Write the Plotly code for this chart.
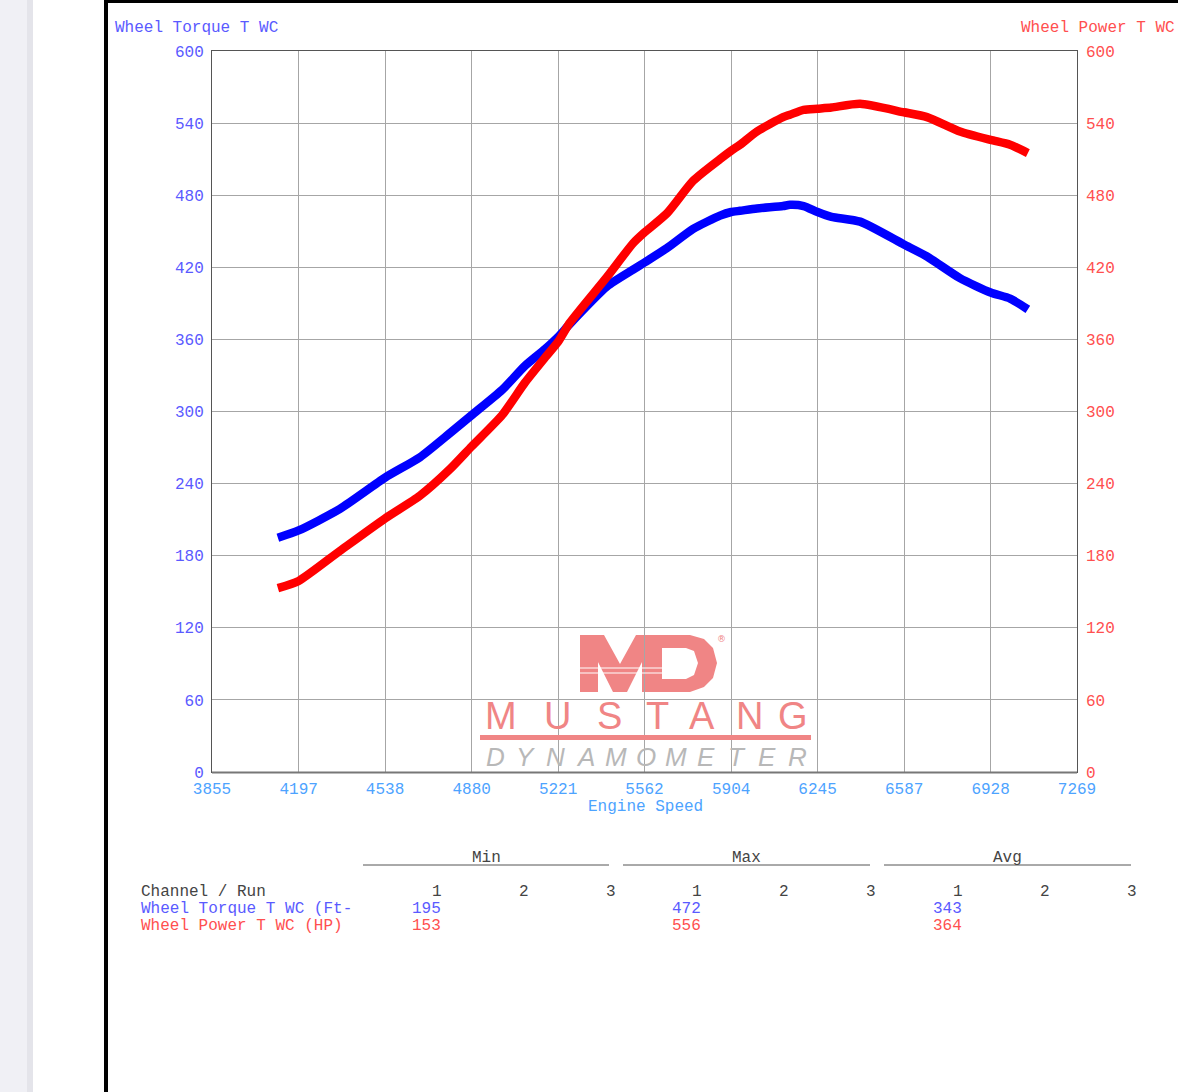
import plotly.graph_objects as go

# ---------------- data ----------------
rpm = [4115, 4197, 4360, 4538, 4676, 4794, 4880, 5000, 5090, 5170, 5221, 5268,
       5414, 5517, 5562, 5651, 5754, 5860, 5904, 5939, 6006, 6109, 6136, 6190,
       6245, 6300, 6413, 6586, 6677, 6807, 6928, 7005, 7075]
torque = [195, 201, 219, 245, 262, 282, 297, 318, 338, 352, 362, 373,
          404, 418, 424, 436, 452, 463, 466, 467, 469, 471, 472, 471,
          466, 462, 458, 439, 429, 411, 399, 394, 385]
power = [153, 159, 184, 211, 230, 252, 271, 297, 324, 345, 358, 374,
         412, 440, 449, 465, 492, 510, 517, 522, 533, 545, 547, 551,
         552, 553, 556, 549, 545, 533, 526, 522, 515]

x_ticks = [3855, 4197, 4538, 4880, 5221, 5562, 5904, 6245, 6587, 6928, 7269]
y_ticks = [0, 60, 120, 180, 240, 300, 360, 420, 480, 540, 600]

left_title = "Wheel Torque T WC"
right_title = "Wheel Power T WC"
x_title = "Engine Speed"

table_groups = ["Min", "Max", "Avg"]
runs = ["1", "2", "3"]
channels = ["Wheel Torque T WC (Ft-", "Wheel Power T WC (HP)"]
ch_min = ["195", "153"]
ch_max = ["472", "556"]
ch_avg = ["343", "364"]

# ---------------- layout helpers ----------------
W, H = 1178, 1092
L, R, T, B = 212, 1077, 51, 772

def px(x):
    return (x - L) / (R - L)

def py(y):
    return (B - y) / (B - T)

def path_from(polys):
    parts = []
    for poly in polys:
        seg = "M " + " L ".join(f"{px(a):.5f},{py(b):.5f}" for a, b in poly) + " Z"
        parts.append(seg)
    return " ".join(parts)

FONT = "Liberation Mono"
BLUE_T = "#5a5aff"
XBLUE = "#4da3ff"
RED_T = "#ff4f4f"
GREY_T = "#444444"
SALMON = "#f08585"

fig = go.Figure()
fig.add_trace(go.Scatter(x=rpm, y=torque, mode="lines", name=left_title,
                         line=dict(color="#0000ff", width=8.5, shape="spline", smoothing=0.6),
                         yaxis="y"))
fig.add_trace(go.Scatter(x=rpm, y=power, mode="lines", name=right_title,
                         line=dict(color="#ff0000", width=8.5, shape="spline", smoothing=0.6),
                         yaxis="y2"))

shapes = []
# page background bits
shapes.append(dict(type="rect", xref="paper", yref="paper", x0=px(0), x1=px(33),
                   y0=py(H), y1=py(0), fillcolor="#f0f0f5", line=dict(width=0), layer="below"))
shapes.append(dict(type="rect", xref="paper", yref="paper", x0=px(27), x1=px(33),
                   y0=py(H), y1=py(0), fillcolor="#e4e4ea", line=dict(width=0), layer="below"))
shapes.append(dict(type="rect", xref="paper", yref="paper", x0=px(104), x1=px(108),
                   y0=py(H), y1=py(0), fillcolor="#000000", line=dict(width=0)))
shapes.append(dict(type="rect", xref="paper", yref="paper", x0=px(104), x1=px(W),
                   y0=py(3), y1=py(0), fillcolor="#000000", line=dict(width=0)))
# bottom axis emphasis
shapes.append(dict(type="line", xref="paper", yref="paper", x0=0, x1=1, y0=py(B + 0.5), y1=py(B + 0.5),
                   line=dict(color="#777777", width=2)))

annotations = []
annotations.append(dict(text=left_title, xref="paper", yref="paper", x=px(113), y=py(28),
                        xanchor="left", yanchor="middle", showarrow=False,
                        font=dict(family=FONT, size=16, color=BLUE_T)))
annotations.append(dict(text=right_title, xref="paper", yref="paper", x=px(1177), y=py(28),
                        xanchor="right", yanchor="middle", showarrow=False,
                        font=dict(family=FONT, size=16, color=RED_T)))

# ---------------- logo watermark (decoration) ----------------
m_poly = [(580, 692), (580, 635), (604, 635), (620, 664), (636, 635), (660, 635),
          (660, 692), (642, 692), (642, 662), (627, 692), (613, 692), (598, 662), (598, 692)]
d_outer = [(645, 635), (690, 635), (704, 639), (713, 648), (717, 663), (713, 678),
           (704, 687), (690, 692), (645, 692)]
d_inner = [(662, 679), (686, 679), (694, 675), (698, 663), (694, 651), (686, 648), (662, 648)]
shapes.append(dict(type="path", xref="paper", yref="paper", path=path_from([m_poly]),
                   fillcolor=SALMON, line=dict(width=0), layer="below"))
shapes.append(dict(type="path", xref="paper", yref="paper", path=path_from([d_outer, d_inner]),
                   fillcolor=SALMON, line=dict(width=0), layer="below"))
shapes.append(dict(type="line", xref="paper", yref="paper", x0=px(580), x1=px(662), y0=py(668), y1=py(668),
                   line=dict(color="white", width=1)))
shapes.append(dict(type="line", xref="paper", yref="paper", x0=px(580), x1=px(662), y0=py(673), y1=py(673),
                   line=dict(color="white", width=1)))
annotations.append(dict(text="®", xref="paper", yref="paper", x=px(721), y=py(639),
                        xanchor="center", yanchor="middle", showarrow=False,
                        font=dict(family="DejaVu Sans", size=9, color=SALMON)))
mustang = "MUSTANG"
m_cent = [501, 557, 609, 657, 702, 749, 793]
for ch, cx in zip(mustang, m_cent):
    annotations.append(dict(text=ch, xref="paper", yref="paper", x=px(cx), y=py(716),
                            xanchor="center", yanchor="middle", showarrow=False,
                            font=dict(family="Liberation Sans", size=38, color=SALMON)))
shapes.append(dict(type="rect", xref="paper", yref="paper", x0=px(480), x1=px(811),
                   y0=py(740), y1=py(735), fillcolor=SALMON, line=dict(width=0)))
dyn = "DYNAMOMETER"
for i, ch in enumerate(dyn):
    cx = 495 + i * 30.2
    annotations.append(dict(text="<i>" + ch + "</i>", xref="paper", yref="paper", x=px(cx), y=py(757),
                            xanchor="center", yanchor="middle", showarrow=False,
                            font=dict(family="Liberation Sans", size=26, color="#b8b8b8")))

# ---------------- x-axis title ----------------
annotations.append(dict(text=x_title, xref="paper", yref="paper", x=px(645), y=py(807),
                        xanchor="center", yanchor="middle", showarrow=False,
                        font=dict(family=FONT, size=16, color=XBLUE)))

# ---------------- stats table ----------------
group_lines = [(363, 609), (623, 870), (884, 1131)]
run_x = [[437, 524, 611], [697, 784, 871], [958, 1045, 1132]]
val_cols = [ch_min, ch_max, ch_avg]
row_colors = [BLUE_T, RED_T]
for g, (x0, x1), rx, vals in zip(table_groups, group_lines, run_x, val_cols):
    annotations.append(dict(text=g, xref="paper", yref="paper", x=px((x0 + x1) / 2), y=py(858),
                            xanchor="center", yanchor="middle", showarrow=False,
                            font=dict(family=FONT, size=16, color=GREY_T)))
    shapes.append(dict(type="line", xref="paper", yref="paper", x0=px(x0), x1=px(x1),
                       y0=py(865), y1=py(865), line=dict(color="#555555", width=1)))
    for r, cx in zip(runs, rx):
        annotations.append(dict(text=r, xref="paper", yref="paper", x=px(cx), y=py(892),
                                xanchor="center", yanchor="middle", showarrow=False,
                                font=dict(family=FONT, size=16, color=GREY_T)))
    for k, v in enumerate(vals):
        annotations.append(dict(text=v, xref="paper", yref="paper", x=px(rx[0] + 6), y=py(909 + 17 * k),
                                xanchor="right", yanchor="middle", showarrow=False,
                                font=dict(family=FONT, size=16, color=row_colors[k])))
annotations.append(dict(text="Channel / Run", xref="paper", yref="paper", x=px(139), y=py(892),
                        xanchor="left", yanchor="middle", showarrow=False,
                        font=dict(family=FONT, size=16, color=GREY_T)))
for k, name in enumerate(channels):
    annotations.append(dict(text=name, xref="paper", yref="paper", x=px(139), y=py(909 + 17 * k),
                            xanchor="left", yanchor="middle", showarrow=False,
                            font=dict(family=FONT, size=16, color=row_colors[k])))

fig.update_layout(
    width=W, height=H, autosize=False,
    margin=dict(l=L, r=W - R, t=T, b=H - B, pad=0),
    paper_bgcolor="white", plot_bgcolor="white",
    showlegend=False,
    xaxis=dict(range=[x_ticks[0], x_ticks[-1]], tickvals=x_ticks, ticktext=[str(v) for v in x_ticks],
               showgrid=True, gridcolor="#a6a6a6", gridwidth=1, zeroline=False,
               showline=True, mirror=True, linecolor="#555555", linewidth=1,
               ticks="", ticklabelstandoff=2,
               tickfont=dict(family=FONT, size=16, color=XBLUE)),
    yaxis=dict(range=[0, 600], tickvals=y_ticks, showgrid=True, gridcolor="#a6a6a6", gridwidth=1,
               zeroline=False, showline=True, mirror=True, linecolor="#555555", linewidth=1,
               ticks="", ticklabelstandoff=4,
               tickfont=dict(family=FONT, size=16, color=BLUE_T)),
    yaxis2=dict(range=[0, 600], tickvals=y_ticks, overlaying="y", side="right", showgrid=False,
                zeroline=False, showline=False, ticks="", ticklabelstandoff=8,
                tickfont=dict(family=FONT, size=16, color=RED_T)),
    shapes=shapes,
    annotations=annotations,
)

fig.write_html("out.html")
